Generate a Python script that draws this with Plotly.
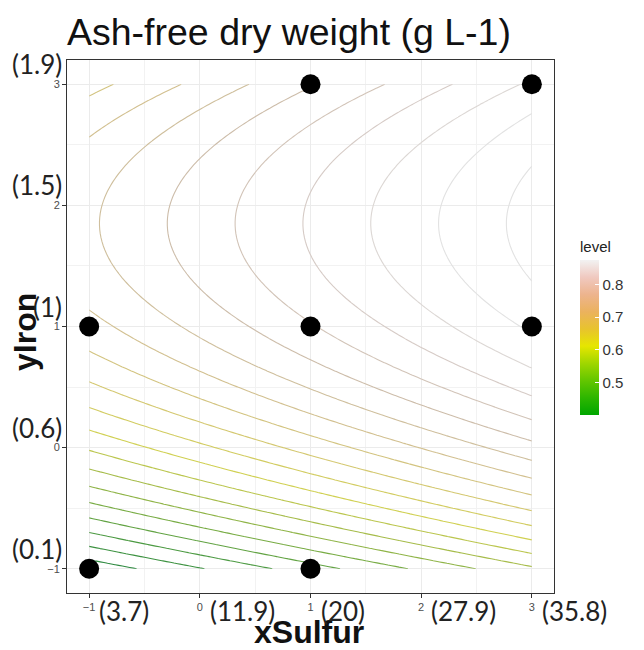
import numpy as np
import plotly.graph_objects as go

# ---- data ----
# fitted response surface: z = b0 + b_s * xSulfur - b_ii * (yIron - y_opt)^2
b0 = 0.762
b_sulfur = 0.0408
b_iron_quad = 0.0417
iron_opt = 1.85

x_coded = [-1, 0, 1, 2, 3]
x_real_labels = ["(3.7)", "(11.9)", "(20)", "(27.9)", "(35.8)"]
y_coded = [-1, 0, 1, 2, 3]
y_real_labels = ["(0.1)", "(0.6)", "(1)", "(1.5)", "(1.9)"]

design_x = [1, 3, -1, 1, 3, -1, 1]
design_y = [3, 3, 1, 1, 1, -1, -1]

level_start, level_end, level_step = 0.400, 0.875, 0.025
legend_ticks = [0.5, 0.6, 0.7, 0.8]

# legend gradient (terrain colours)
terrain = ["#00A600", "#2DB600", "#63C600", "#A0D600", "#E6E600",
           "#E8C32E", "#EBB25E", "#EDB48E", "#F0C9C0", "#F2F2F2"]
colorscale = [[i / (len(terrain) - 1), c] for i, c in enumerate(terrain)]
# thin contour lines appear muted in the reference
line_terrain = ["#2E8A40", "#4C9A42", "#78AC44", "#A6BC4A", "#D0D052",
                "#D4C870", "#D2C090", "#CDBDAA", "#D6CBC6", "#E2E2E2"]
line_colorscale = [[i / (len(line_terrain) - 1), c] for i, c in enumerate(line_terrain)]

# ---- surface grid ----
gx = np.linspace(-1, 3, 121)
gy = np.linspace(-1, 3, 121)
GX, GY = np.meshgrid(gx, gy)
Z = b0 + b_sulfur * GX - b_iron_quad * (GY - iron_opt) ** 2

fig = go.Figure()
fig.add_trace(go.Contour(
    x=gx, y=gy, z=Z,
    contours=dict(coloring="lines", start=level_start, end=level_end, size=level_step),
    colorscale=line_colorscale, zmin=level_start, zmax=level_end, zauto=False,
    line=dict(width=1.1, smoothing=0),
    showscale=False, hoverinfo="skip",
))
fig.add_trace(go.Scatter(
    x=design_x, y=design_y, mode="markers",
    marker=dict(color="black", size=20), showlegend=False,
))
# colourbar (continuous, like ggplot's guide)
fig.add_trace(go.Scatter(
    x=[None], y=[None], mode="markers", showlegend=False,
    marker=dict(color=[level_start], cmin=level_start, cmax=level_end,
                colorscale=colorscale, showscale=True, size=0,
                colorbar=dict(
                    x=1.0534, xanchor="left", thickness=19, xpad=0, ypad=0,
                    lenmode="pixels", len=177, y=0.666, yanchor="top",
                    outlinewidth=0, ticks="inside", tickcolor="white", ticklen=4,
                    tickvals=legend_ticks, ticktext=[str(t) for t in legend_ticks],
                    tickfont=dict(size=15, color="#333333", family="Liberation Sans"),
                    title=dict(text="level", side="top",
                               font=dict(size=15, color="#222222", family="Liberation Sans")),
                )),
))

axis_common = dict(
    showline=True, mirror=True, linecolor="#333333", linewidth=1,
    ticks="outside", ticklen=4, tickcolor="#333333",
    tickfont=dict(size=11, color="#4D4D4D", family="Liberation Sans"),
    showgrid=True, gridcolor="#EBEBEB", gridwidth=1, zeroline=False,
    minor=dict(dtick=0.5, showgrid=True, gridcolor="#F2F2F2", gridwidth=1),
)
fig.update_xaxes(range=[-1.2, 3.2], tickvals=x_coded, **axis_common)
fig.update_yaxes(range=[-1.2, 3.2], tickvals=y_coded, **axis_common)

ann = []
ann.append(dict(text="Ash-free dry weight (g L-1)", xref="paper", yref="paper",
                x=-0.004, y=1.053, xanchor="left", yanchor="middle", showarrow=False,
                font=dict(size=37.5, color="#111111", family="Liberation Sans")))
ann.append(dict(text="<b>xSulfur</b>", xref="paper", yref="paper",
                x=0.497, y=-0.074, xanchor="center", yanchor="middle", showarrow=False,
                font=dict(size=32, color="#111111", family="Liberation Sans")))
ann.append(dict(text="<b>yIron</b>", xref="paper", yref="paper", textangle=-90,
                x=-0.086, y=0.49, xanchor="center", yanchor="middle", showarrow=False,
                font=dict(size=32, color="#111111", family="Liberation Sans")))
for v, t in zip(x_coded, x_real_labels):
    ann.append(dict(text=t, xref="x", yref="paper", x=v, y=-0.0338, xshift=8,
                    xanchor="left", yanchor="middle", showarrow=False,
                    font=dict(size=26, color="#222222", family="Lato")))
for v, t in zip(y_coded, y_real_labels):
    ann.append(dict(text=t, xref="paper", yref="y", x=-0.006, y=v, yshift=20,
                    xanchor="right", yanchor="middle", showarrow=False,
                    font=dict(size=26, color="#222222", family="Lato")))

fig.update_layout(
    width=644, height=650,
    margin=dict(l=67, r=90, t=60, b=57, autoexpand=False),
    paper_bgcolor="white", plot_bgcolor="white",
    showlegend=False, annotations=ann,
)
fig.write_html("out.html")
